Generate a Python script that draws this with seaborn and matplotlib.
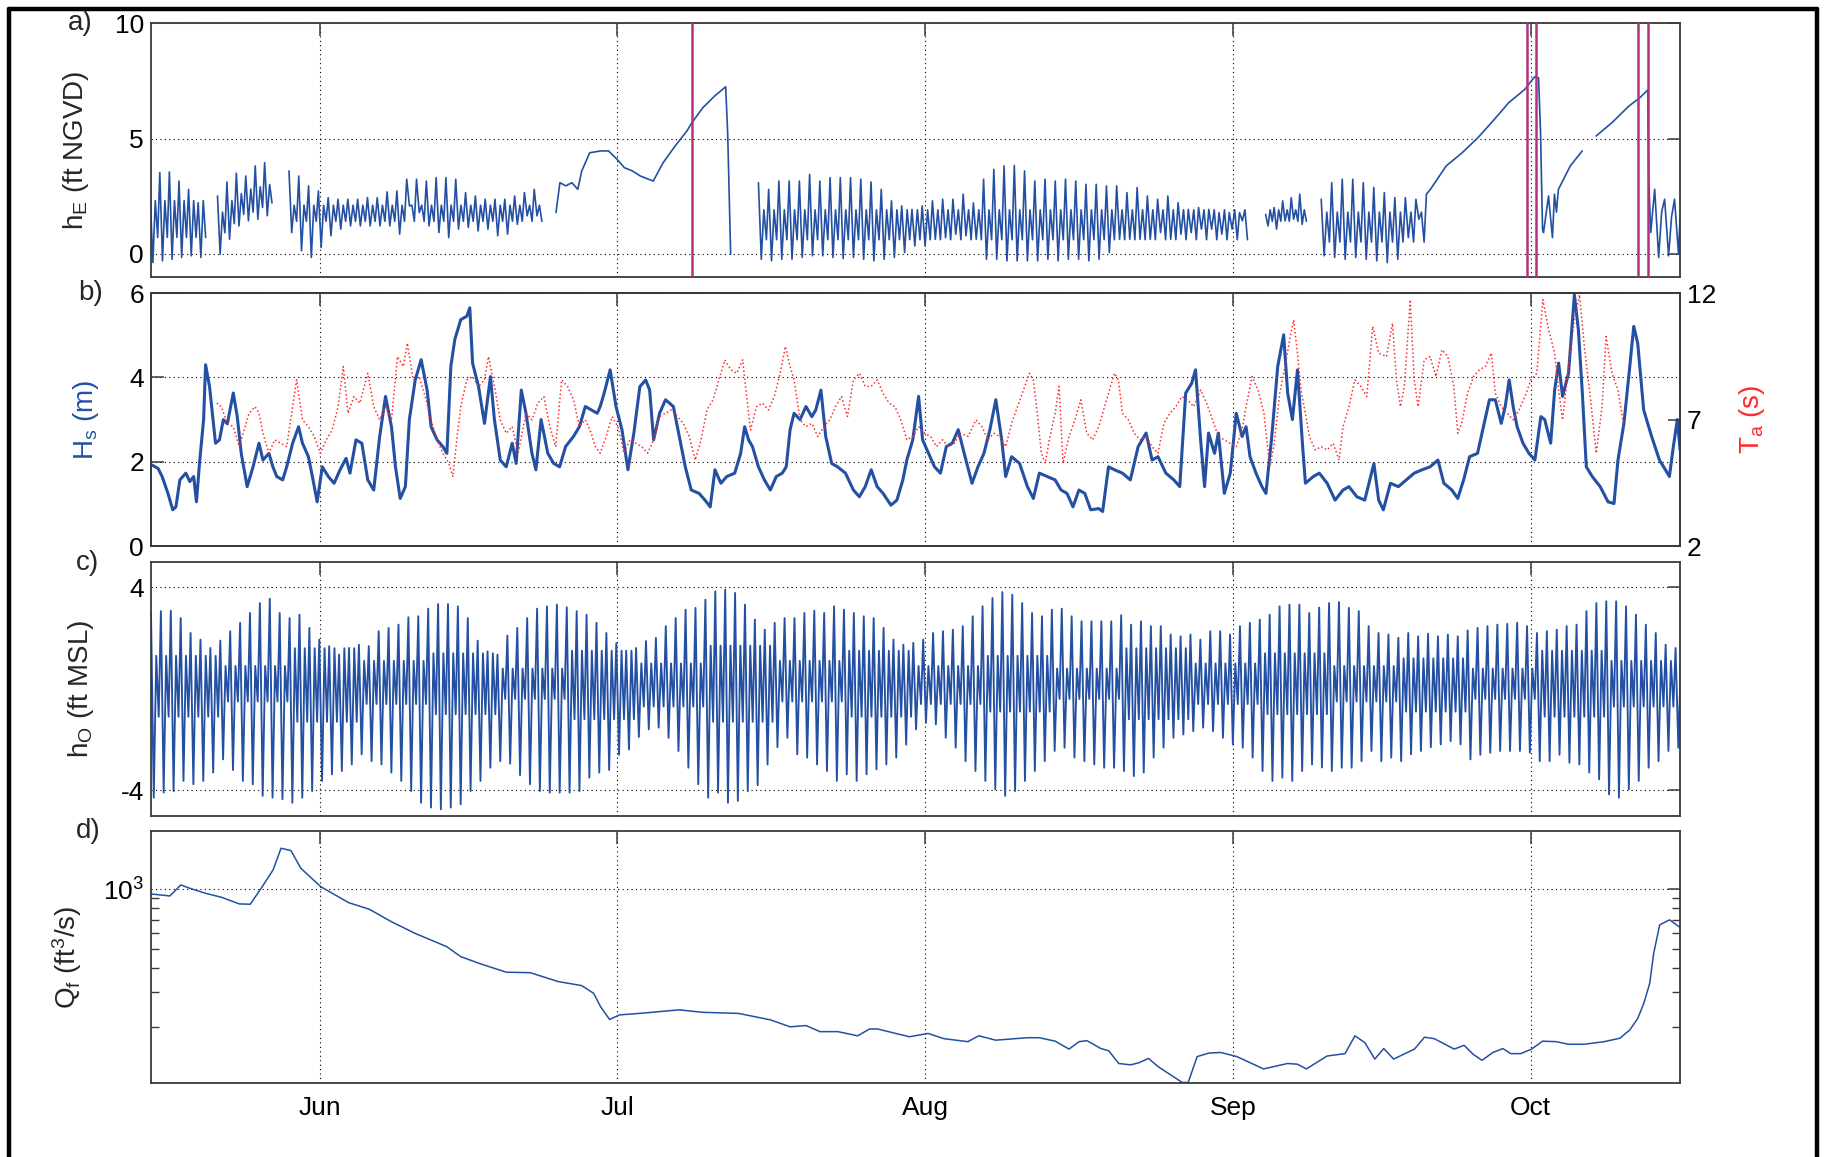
import numpy as np
import pandas as pd
import matplotlib
matplotlib.use("Agg")
import matplotlib.pyplot as plt
import matplotlib.dates as mdates
import matplotlib.ticker as mticker
from matplotlib.lines import Line2D
import seaborn as sns

sns.set_theme(style="white")
plt.rcParams["font.family"] = ["Liberation Sans", "DejaVu Sans"]
plt.rcParams["mathtext.default"] = "regular"
plt.rcParams["axes.unicode_minus"] = False

START = pd.Timestamp("2011-05-15")
END_DAY = 154.05

# ---------------- data (days since 15 May) ----------------
# panel a: lagoon level, oscillating stretches (daily high / low) and closed-mouth ramps
a_seg1_hh = [2.5, 3.52, 3.55, 3.15, 2.79, 2.21]
a_seg1_ll = [-0.39, -0.32, -0.25, -0.17, -0.1, -0.17]
a_seg2_hh = [2.5, 3.11, 3.49, 3.37, 3.81, 3.95]
a_seg2_ll = [-0.03, 0.62, 1.2, 1.42, 1.49, 1.64]
a_seg2_lh = [1.8, 2.3, 2.6, 2.8, 2.9, 3.0]
a_seg2_hl = [0.9, 1.3, 1.7, 1.8, 2.0, 2.2]
a_seg3_hh = [3.59, 3.37, 2.94, 2.72, 2.43, 2.36, 2.36, 2.36, 2.43, 2.43,
             2.68, 2.72, 3.23, 3.23, 3.15, 3.3, 3.3, 3.23, 2.65, 2.5,
             2.36, 2.36, 2.36, 2.5, 2.65, 2.79]
a_seg3_ll = [0.91, 0.12, -0.17, 0.26, 0.77, 1.06, 1.2, 1.2, 1.2, 1.2,
             1.2, 0.84, 2.07, 1.78, 1.2, 0.91, 0.69, 1.06, 1.13, 0.98,
             1.06, 0.77, 0.84, 1.27, 1.64, 1.64]
a_ramp1 = [(40.8, 1.78), (41.2, 3.08), (41.8, 2.94), (42.4, 3.08), (43.0, 2.79),
           (43.4, 3.59), (44.2, 4.38), (45.3, 4.46), (46.1, 4.46), (46.9, 4.12),
           (47.7, 3.73), (48.5, 3.59), (49.3, 3.37), (50.6, 3.15), (51.6, 3.95),
           (52.8, 4.67), (54.0, 5.33), (54.5, 5.69), (55.6, 6.34), (56.8, 6.85),
           (57.9, 7.25), (58.1, 5.25), (58.2, 3.52), (58.4, -0.03)]
a_seg5_hh = [3.08, 2.79, 3.15, 3.15, 3.15, 3.44, 3.15, 3.3, 3.3, 3.3,
             3.23, 3.11, 2.79, 2.29, 2.07, 1.92, 2.07, 2.29, 2.36, 2.36,
             2.58, 2.2, 3.23, 3.66, 3.81, 3.83, 3.59, 3.15, 3.23, 3.15,
             3.23, 3.15, 3.01, 3.01, 2.94, 2.94, 2.65, 2.87, 2.5, 2.36,
             2.5, 2.21, 1.92, 2.0, 1.92, 1.78, 1.78, 1.78]
a_seg5_ll = [-0.25, -0.32, -0.25, -0.25, -0.17, -0.1, -0.1, -0.17, -0.22, -0.17,
             -0.25, -0.32, -0.25, -0.17, 0.04, 0.33, 0.33, 0.62, 0.69, 0.84,
             0.77, 0.62, -0.25, -0.25, -0.32, -0.32, -0.32, -0.32, -0.25, -0.32,
             -0.25, -0.25, -0.32, -0.25, 0.04, 0.62, 0.62, 0.62, 0.62, 0.91,
             0.62, 0.84, 0.91, 1.06, 1.06, 0.84, 1.06, 1.42]
a_seg6_hh = [1.7, 2.0, 2.29, 2.43, 2.58]
a_seg6_ll = [1.2, 1.06, 1.42, 1.49, 1.27]
a_seg7_hh = [2.36, 3.08, 3.23, 3.23, 3.08, 2.87, 2.65, 2.43, 2.43, 2.36]
a_seg7_ll = [-0.1, -0.17, -0.25, -0.17, -0.25, -0.32, -0.39, -0.25, 0.69, 1.49]
a_ramp2 = [(128.5, 2.58), (128.9, 2.79), (130.5, 3.81), (132.1, 4.38), (133.7, 5.04),
           (135.2, 5.76), (136.8, 6.56), (138.4, 7.13), (139.4, 7.68), (139.8, 7.64),
           (140.0, 5.25), (140.2, 1.06), (140.3, 0.91), (140.8, 2.5), (141.2, 0.69),
           (141.4, 2.58), (141.6, 1.8), (141.8, 2.79), (143.0, 3.81), (144.2, 4.46)]
a_ramp3 = [(145.6, 5.11), (147.2, 5.69), (148.9, 6.41), (150.0, 6.77), (150.8, 7.11),
           (150.9, 3.23), (151.1, 0.91), (151.5, 2.79), (151.9, -0.17), (152.2, 1.8),
           (152.5, 2.36), (152.9, -0.1), (153.2, 1.6), (153.5, 2.36), (153.9, -0.03),
           (154.05, 1.5)]
breach_days = [54.5, 138.6, 139.5, 149.85, 150.8]

# panel b: significant wave height Hs (m)
hs_pts = [(0.12, 1.92), (0.72, 1.84), (1.12, 1.65), (1.71, 1.25), (2.19, 0.86), (2.51, 0.93),
          (2.91, 1.57), (3.51, 1.73), (3.91, 1.53), (4.30, 1.65), (4.58, 1.05), (4.90, 2.0),
          (5.30, 3.0), (5.50, 4.3), (5.90, 3.78), (6.50, 2.44), (6.90, 2.52), (7.29, 3.0),
          (7.69, 2.9), (8.29, 3.63), (8.69, 3.07), (9.09, 2.2), (9.69, 1.41), (10.28, 1.88),
          (10.88, 2.44), (11.28, 2.04), (11.88, 2.2), (12.28, 1.88), (12.67, 1.65), (13.27, 1.57),
          (13.67, 1.88), (14.27, 2.44), (14.87, 2.83), (15.26, 2.44), (15.86, 2.12), (16.26, 1.65),
          (16.74, 1.05), (17.26, 1.88), (17.86, 1.65), (18.45, 1.49), (19.05, 1.81), (19.65, 2.08),
          (20.05, 1.73), (20.65, 2.52), (21.24, 2.44), (21.84, 1.57), (22.44, 1.33), (23.04, 2.60),
          (23.63, 3.55), (24.23, 2.83), (24.63, 1.88), (25.11, 1.13), (25.63, 1.41), (26.03, 3.0),
          (26.62, 3.94), (27.22, 4.42), (27.82, 3.7), (28.22, 2.83), (28.82, 2.52), (29.41, 2.36),
          (29.81, 2.2), (30.21, 4.26), (30.61, 4.9), (31.21, 5.37), (31.81, 5.45), (32.12, 5.65),
          (32.40, 4.34), (33.0, 3.78), (33.6, 2.91), (34.2, 4.02), (34.6, 3.0), (35.19, 2.04),
          (35.79, 1.88), (36.39, 2.44), (36.79, 1.96), (37.31, 3.7), (37.78, 3.15), (38.38, 2.2),
          (38.78, 1.81), (39.30, 3.0), (39.98, 2.2), (40.57, 1.96), (41.17, 1.88), (41.77, 2.36),
          (42.57, 2.6), (43.16, 2.83), (43.76, 3.31), (44.36, 3.23), (44.96, 3.15),
          (45.26, 3.31), (45.66, 3.63), (46.26, 4.18), (46.85, 3.31), (47.45, 2.76), (48.05, 1.81),
          (48.65, 2.68), (49.25, 3.78), (49.84, 3.94), (50.24, 3.7), (50.64, 2.52), (51.24, 3.15),
          (51.84, 3.47), (52.63, 3.31), (53.23, 2.6), (53.83, 1.88), (54.43, 1.33), (55.22, 1.25),
          (55.82, 1.09), (56.34, 0.93), (56.82, 1.81), (57.42, 1.49), (58.01, 1.65), (58.81, 1.73),
          (59.41, 2.2), (59.81, 2.83), (60.21, 2.52), (60.6, 2.36), (61.2, 1.88), (61.8, 1.57),
          (62.4, 1.33), (63.0, 1.65), (63.6, 1.73), (64.0, 1.88), (64.39, 2.76), (64.79, 3.15),
          (65.39, 3.0), (65.99, 3.31), (66.58, 3.07), (66.98, 3.23), (67.5, 3.7), (67.98, 2.6),
          (68.58, 1.96), (69.17, 1.88), (69.97, 1.73), (70.77, 1.33), (71.37, 1.17), (71.96, 1.41),
          (72.56, 1.81), (73.16, 1.41), (73.76, 1.25), (74.55, 0.97), (75.15, 1.09), (75.75, 1.57),
          (76.15, 2.04), (76.75, 2.52), (77.34, 3.55), (77.74, 2.52), (78.34, 2.2), (78.94, 1.88),
          (79.54, 1.73), (80.13, 2.36), (80.73, 2.44), (81.33, 2.76), (81.93, 2.2), (82.72, 1.49),
          (83.32, 1.88), (83.92, 2.2), (84.52, 2.76), (85.12, 3.47), (85.71, 2.52), (86.11, 1.65),
          (86.71, 2.12), (87.51, 1.96), (88.3, 1.41), (88.9, 1.13), (89.5, 1.73), (90.3, 1.65),
          (91.09, 1.57), (91.69, 1.33), (92.29, 1.25), (92.89, 0.93), (93.49, 1.33), (94.08, 1.25),
          (94.68, 0.86), (95.48, 0.89), (95.88, 0.82), (96.47, 1.88), (97.07, 1.81), (97.87, 1.73),
          (98.67, 1.57), (99.46, 2.36), (100.26, 2.68), (100.86, 2.04), (101.46, 2.12), (102.25, 1.73),
          (103.05, 1.57), (103.65, 1.41), (104.25, 3.63), (104.85, 3.86), (105.24, 4.18),
          (105.75, 2.52), (106.15, 1.41), (106.55, 2.68), (107.15, 2.2), (107.54, 2.68), (108.14, 1.25),
          (108.74, 1.73), (109.34, 3.15), (109.93, 2.6), (110.33, 2.83), (110.73, 2.12), (111.33, 1.73),
          (111.93, 1.41), (112.33, 1.25), (112.92, 2.6), (113.52, 4.26), (114.12, 5.01), (114.52, 3.63),
          (115.0, 3.0), (115.51, 4.18), (116.03, 2.36), (116.31, 1.49), (117.11, 1.65), (117.71, 1.73),
          (118.5, 1.49), (119.3, 1.09), (120.1, 1.33), (120.7, 1.41), (121.49, 1.17), (122.29, 1.09),
          (123.21, 1.96), (123.69, 1.09), (124.16, 0.86), (124.88, 1.49), (125.68, 1.41), (126.48, 1.57),
          (127.27, 1.73), (128.07, 1.81), (128.87, 1.88), (129.66, 2.04), (130.26, 1.49), (131.06, 1.33),
          (131.66, 1.13), (132.25, 1.57), (132.85, 2.12), (133.65, 2.2), (134.25, 2.83), (134.85, 3.47),
          (135.44, 3.47), (136.04, 2.91), (136.44, 3.31), (136.84, 3.94), (137.24, 3.31), (137.64, 2.83),
          (138.23, 2.44), (138.83, 2.2), (139.43, 2.04), (140.03, 3.07), (140.42, 3.0), (141.02, 2.44),
          (141.42, 3.7), (141.82, 4.34), (142.22, 3.55), (142.82, 4.1), (143.41, 5.96), (143.81, 5.13),
          (144.21, 3.63), (144.61, 1.88), (145.21, 1.65), (146.01, 1.41), (146.8, 1.05), (147.4, 1.01),
          (147.8, 2.04), (148.4, 2.91), (148.99, 4.26), (149.39, 5.21), (149.79, 4.81), (150.39, 3.23),
          (151.19, 2.6), (151.98, 2.04), (152.58, 1.81), (152.98, 1.65), (153.38, 2.36), (153.78, 3.0),
          (154.06, 2.28)]

# panel b: average wave period Ta (s)
ta_pts = [(6.62, 7.65), (7.09, 7.51), (7.69, 6.85), (8.29, 6.72), (8.89, 5.93), (9.29, 6.46),
          (9.88, 7.25), (10.48, 7.51), (10.88, 7.25), (11.28, 6.46), (11.88, 5.67), (12.47, 6.2),
          (13.07, 6.06), (13.67, 5.93), (14.27, 7.51), (14.67, 8.57), (15.26, 6.99), (15.86, 6.72),
          (16.46, 6.33), (17.06, 5.67), (17.66, 6.2), (18.25, 6.59), (18.85, 7.51), (19.37, 9.1),
          (19.85, 7.25), (20.45, 7.91), (21.04, 7.65), (21.84, 8.83), (22.44, 7.51), (23.04, 6.99),
          (23.63, 7.51), (24.23, 6.99), (24.83, 9.49), (25.43, 9.1), (25.83, 10.02), (26.42, 8.57),
          (27.02, 8.7), (27.62, 7.91), (28.22, 6.99), (28.82, 6.2), (29.41, 5.67), (30.01, 5.27),
          (30.41, 4.74), (30.81, 6.2), (31.21, 7.51), (31.81, 8.57), (32.40, 8.7), (33.0, 8.31),
          (33.6, 8.57), (34.0, 9.49), (34.6, 8.31), (35.19, 6.99), (35.79, 6.46), (36.39, 6.72),
          (36.99, 5.67), (37.78, 7.25), (38.38, 6.99), (38.98, 7.65), (39.58, 7.91), (40.18, 6.72),
          (40.77, 5.93), (41.37, 8.57), (41.97, 8.31), (42.57, 7.78), (43.16, 6.72), (43.76, 6.99),
          (44.36, 6.46), (44.76, 5.93),
          (45.26, 5.67), (45.86, 6.33), (46.46, 7.12), (47.05, 6.72), (47.65, 5.67), (48.25, 6.2),
          (48.85, 6.06), (49.44, 5.93), (50.04, 5.67), (50.64, 6.2), (51.24, 7.12), (51.84, 7.25),
          (52.43, 7.38), (53.03, 7.12), (53.63, 6.85), (54.23, 6.33), (54.83, 5.4), (55.42, 6.2),
          (56.02, 7.38), (56.62, 7.78), (57.22, 8.57), (57.81, 9.36), (58.41, 8.97), (59.01, 8.83),
          (59.61, 9.36), (60.01, 7.91), (60.41, 6.59), (61.0, 7.51), (61.6, 7.65), (62.2, 7.38),
          (62.8, 7.91), (63.39, 8.83), (63.91, 9.89), (64.39, 9.1), (64.79, 8.57), (65.39, 6.99),
          (65.99, 6.72), (66.58, 6.85), (67.18, 6.33), (67.78, 6.72), (68.38, 6.99), (68.97, 7.51),
          (69.57, 7.91), (70.17, 7.12), (70.77, 8.57), (71.37, 8.83), (71.96, 8.31), (72.56, 8.31),
          (73.16, 8.57), (73.76, 8.04), (74.36, 7.65), (74.95, 7.51), (75.55, 6.99), (76.15, 6.2),
          (76.75, 6.33), (77.34, 6.72), (77.94, 6.46), (78.54, 6.33), (79.14, 5.93), (79.74, 6.2),
          (80.33, 5.93), (80.93, 6.06), (81.53, 6.46), (82.33, 6.33), (83.12, 6.99), (83.72, 6.72),
          (84.32, 6.2), (84.92, 6.46), (85.52, 6.33), (86.11, 5.93), (86.71, 6.85), (87.31, 7.51),
          (87.91, 8.17), (88.5, 8.83), (88.9, 8.57), (89.3, 7.25), (89.7, 5.67), (90.1, 5.27),
          (90.5, 6.2), (91.09, 7.25), (91.49, 8.31), (91.89, 5.27), (92.49, 6.33), (93.09, 6.99),
          (93.68, 7.78), (94.28, 6.46), (94.88, 6.2), (95.48, 6.72), (96.08, 7.51), (96.67, 8.31),
          (97.07, 8.83), (97.47, 8.57), (97.87, 7.25), (98.47, 6.99), (99.07, 6.46), (99.66, 6.2),
          (100.26, 6.33), (100.86, 5.93), (101.46, 5.67), (102.05, 6.85), (102.65, 7.25), (103.25, 7.51),
          (103.85, 7.91), (104.45, 7.78), (105.04, 7.51), (105.64, 8.04),
          (105.75, 8.17), (106.35, 7.65), (106.95, 6.99), (107.54, 6.33), (108.14, 6.2), (108.74, 6.06),
          (109.34, 5.93), (109.93, 6.59), (110.33, 7.51), (110.93, 8.7), (111.53, 8.17), (112.13, 7.25),
          (112.72, 5.14), (113.12, 5.93), (113.72, 8.04), (114.32, 9.23), (114.72, 10.15), (115.12, 10.94),
          (115.51, 9.63), (115.91, 8.04), (116.31, 7.25), (116.71, 6.33), (117.31, 5.8), (117.91, 5.93),
          (118.5, 5.8), (119.1, 6.06), (119.7, 5.4), (120.1, 6.72), (120.7, 7.51), (121.29, 8.57),
          (121.89, 8.31), (122.49, 7.91), (123.09, 10.68), (123.69, 9.63), (124.48, 9.49), (125.08, 10.81),
          (125.48, 8.57), (125.88, 7.51), (126.28, 8.31), (126.87, 11.74), (127.27, 8.57), (127.67, 7.51),
          (128.27, 9.36), (128.87, 9.49), (129.46, 8.7), (130.06, 9.76), (130.66, 9.49), (131.26, 8.31),
          (131.66, 6.46), (132.05, 6.85), (132.65, 8.04), (133.25, 8.7), (133.85, 8.97), (134.45, 9.1),
          (135.04, 9.63), (135.44, 8.04), (136.04, 7.51), (136.64, 7.25), (137.24, 6.99), (137.83, 7.38),
          (138.43, 7.91), (139.03, 8.57), (139.63, 8.83), (140.23, 11.74), (140.82, 10.55), (141.42, 9.63),
          (141.82, 8.17), (142.22, 6.99), (142.82, 9.1), (143.41, 10.94), (143.93, 11.93), (144.41, 9.89),
          (145.01, 7.91), (145.61, 5.67), (146.2, 7.51), (146.6, 10.28), (147.2, 8.83), (147.8, 8.17),
          (148.4, 6.72)]

# panel c: ocean tide, one higher-high / lower-low per tidal day, plus weekly secondary levels
tide_hh = [3.0, 3.06, 3.08, 2.79, 2.2, 1.94, 1.61, 1.9, 2.27, 2.6,
           2.99, 3.38, 3.55, 2.99, 2.79, 2.92, 2.4, 1.94, 1.68, 1.35,
           1.61, 1.74, 1.68, 2.27, 2.4, 2.53, 2.82, 2.86, 3.16, 3.34,
           3.34, 3.25, 2.79, 1.9, 1.48, 1.35, 2.1, 2.4, 2.79, 3.16,
           3.25, 3.32, 3.21, 3.06, 2.92, 2.6, 2.2, 1.8, 1.5, 1.61,
           1.88, 2.01, 2.47, 2.79, 3.12, 3.19, 3.51, 3.84, 3.91, 3.78,
           3.32, 2.73, 2.33, 2.6, 2.79, 2.79, 2.99, 3.08, 2.99, 3.25,
           3.12, 2.99, 2.86, 2.79, 2.4, 1.94, 1.74, 1.81, 1.94, 2.2,
           2.27, 2.33, 2.47, 2.86, 3.25, 3.58, 3.81, 3.71, 3.38, 2.99,
           2.86, 3.12, 3.16, 2.86, 2.66, 2.66, 2.66, 2.66, 2.9, 2.53,
           2.66, 2.47, 2.47, 2.14, 2.07, 2.14, 1.94, 2.27, 2.27, 2.14,
           2.47, 2.6, 2.73, 2.92, 3.25, 3.32, 3.32, 2.99, 3.2, 3.38,
           3.42, 3.19, 3.06, 2.47, 2.2, 2.14, 2.01, 2.2, 2.07, 2.17,
           2.07, 2.14, 2.07, 2.3, 2.4, 2.47, 2.53, 2.56, 2.6, 2.47,
           2.2, 2.27, 2.33, 2.47, 2.53, 3.06, 3.38, 3.45, 3.45, 3.25,
           2.92, 2.53, 2.2, 1.74, 1.61]
tide_ll = [-4.29, -4.09, -4.03, -3.63, -3.76, -3.63, -3.3, -2.78, -3.2, -3.63,
           -3.76, -4.22, -4.29, -4.35, -4.49, -4.29, -4.03, -3.63, -3.37, -3.24,
           -2.98, -2.58, -2.85, -2.98, -3.3, -3.63, -4.03, -4.49, -4.68, -4.75,
           -4.68, -4.55, -4.03, -3.63, -3.11, -2.85, -2.95, -3.4, -3.76, -4.03,
           -4.09, -4.09, -4.09, -4.03, -3.5, -3.3, -3.2, -2.6, -2.39, -1.9,
           -1.6, -1.53, -1.93, -2.45, -3.11, -3.76, -4.29, -4.09, -4.49, -4.42,
           -4.03, -3.8, -2.98, -2.3, -1.93, -2.58, -2.71, -2.98, -3.24, -3.63,
           -3.37, -3.63, -3.37, -3.17, -2.98, -2.71, -2.2, -1.6, -1.34, -1.4,
           -1.93, -2.32, -2.85, -3.24, -3.63, -3.96, -4.22, -4.03, -3.63, -3.24,
           -2.85, -2.45, -2.32, -2.71, -2.85, -2.98, -3.11, -3.11, -3.24, -3.44,
           -3.3, -2.71, -2.32, -1.93, -1.8, -1.67, -1.53, -1.67, -1.93, -2.19,
           -2.32, -2.71, -3.24, -3.63, -3.5, -3.63, -3.24, -2.98, -3.1, -3.24,
           -3.11, -3.11, -2.85, -2.45, -2.85, -2.71, -2.85, -2.58, -2.45, -2.3,
           -2.19, -2.06, -2.19, -2.78, -2.6, -2.52, -2.45, -2.45, -2.45, -2.52,
           -2.85, -2.85, -2.6, -2.91, -2.98, -3.3, -3.57, -4.16, -4.29, -3.96,
           -3.63, -3.11, -2.85, -2.45, -2.32]
tide_mid_hi = [1.3, 0.9, 1.6, 1.1, 1.4, 0.8, 1.5, 1.0, 1.7, 1.1, 1.5, 0.9,
               1.3, 0.8, 1.6, 1.0, 1.4, 0.9, 1.2, 0.8, 1.5, 1.1, 1.0]
tide_mid_lo = [-1.1, -0.5, -1.3, -0.6, -1.0, -0.4, -1.2, -0.7, -1.3, -0.5, -1.1, -0.6,
               -0.9, -0.4, -1.2, -0.6, -1.0, -0.5, -0.9, -0.4, -1.1, -0.7, -0.6]

# panel d: river flow Qf (ft3/s)
qf_pts = [(0.0, 947), (1.9, 925), (3.0, 1052), (3.9, 1012), (5.5, 954), (7.1, 911), (8.9, 843),
          (10.0, 840), (11.1, 1012), (12.3, 1253), (13.1, 1614), (14.1, 1570), (15.1, 1277),
          (17.1, 1031), (19.9, 856), (22.0, 792), (24.2, 686), (26.6, 598), (29.8, 512),
          (31.2, 456), (33.2, 419), (35.8, 380), (38.2, 378), (41.0, 341), (43.4, 325),
          (44.6, 297), (45.3, 254), (46.2, 219), (47.2, 231), (49.2, 235), (53.2, 245),
          (55.6, 238), (59.2, 235), (62.4, 218), (64.4, 201), (66.0, 204), (67.4, 190),
          (69.2, 190), (71.2, 181), (72.4, 196), (73.2, 196), (76.4, 179), (78.3, 186),
          (79.9, 175), (82.3, 169), (83.4, 181), (85.1, 172), (88.3, 177), (89.5, 177),
          (91.1, 170), (92.5, 155), (93.5, 169), (94.3, 171), (95.7, 156), (96.5, 152),
          (97.5, 131), (98.7, 129), (99.5, 132), (100.5, 139), (101.5, 126), (103.9, 105),
          (104.5, 105), (105.4, 142), (106.6, 148), (107.8, 149), (109.4, 142), (112.1, 123),
          (114.5, 131), (115.5, 130), (116.4, 123), (118.5, 143), (120.3, 147), (121.3, 181),
          (122.3, 167), (123.3, 138), (124.2, 156), (125.2, 138), (127.3, 155), (128.3, 178),
          (129.3, 175), (131.3, 155), (132.3, 162), (133.2, 146), (134.1, 136), (135.2, 149),
          (136.2, 156), (137.0, 147), (138.0, 147), (139.1, 155), (140.2, 170), (141.6, 169),
          (142.8, 164), (144.4, 164), (146.4, 169), (148.0, 176), (149.0, 194), (149.8, 222),
          (150.4, 264), (151.0, 334), (151.4, 474), (152.0, 660), (153.0, 700), (154.05, 641)]

BLUE = "#2350a3"
RED = "#ff2a2a"
MAGENTA = "#b5307e"
TICK_FS = 19
LABEL_FS = 20


def to_dates(days):
    return START + pd.to_timedelta(np.asarray(days, dtype=float), unit="D")


def tide_cycles(start, end, hh, ll, lh, hl):
    # higher high -> lower low -> lower high -> higher low, one set per tidal day
    n = len(hh)
    step = (end - start) / n
    t, v = [], []
    for i in range(n):
        t0 = start + i * step
        a = lh[i] if np.ndim(lh) else lh
        b = hl[i] if np.ndim(hl) else hl
        t += [t0, t0 + 0.28 * step, t0 + 0.53 * step, t0 + 0.78 * step]
        v += [hh[i], ll[i], a, b]
    return t, v


def draw(ax, days, vals, color=BLUE, lw=1.2, **kw):
    sns.lineplot(x=to_dates(days), y=np.asarray(vals, float), ax=ax, color=color,
                 linewidth=lw, estimator=None, sort=False, legend=False, **kw)


def style(ax, right=True):
    for s in ax.spines.values():
        s.set_color("#3a3a3a")
        s.set_linewidth(1.3)
    ax.tick_params(which="major", direction="in", length=9, width=1.1, top=True,
                   right=right, labelsize=TICK_FS, color="#3a3a3a", labelcolor="black", pad=5)
    ax.xaxis.set_major_locator(mdates.MonthLocator())
    ax.xaxis.set_major_formatter(mdates.DateFormatter("%b"))
    ax.set_xlim(START, START + pd.Timedelta(days=END_DAY))
    ax.grid(True, which="major", linestyle=(0, (1, 3)), color="black", linewidth=0.8)
    ax.set_axisbelow(True)
    ax.set_xlabel("")


fig = plt.figure(figsize=(18.28, 11.57), dpi=100)
L, W = 151 / 1828, 1529 / 1828
ax_a = fig.add_axes([L, 0.761, W, 0.2187])
ax_b = fig.add_axes([L, 0.528, W, 0.2187])
ax_c = fig.add_axes([L, 0.295, W, 0.2193])
ax_d = fig.add_axes([L, 0.0637, W, 0.2183])

# ---- a) lagoon water level
for t, v in [tide_cycles(-0.08, 5.72, a_seg1_hh, a_seg1_ll, 2.3, 0.7),
             tide_cycles(6.7, 12.4, a_seg2_hh, a_seg2_ll, a_seg2_lh, a_seg2_hl),
             tide_cycles(13.9, 39.6, a_seg3_hh, a_seg3_ll, 2.1, 1.4),
             tide_cycles(61.2, 110.7, a_seg5_hh, a_seg5_ll, 1.9, 0.6),
             tide_cycles(112.3, 116.6, a_seg6_hh, a_seg6_ll, 1.9, 1.4)]:
    draw(ax_a, t, v)
draw(ax_a, [p[0] for p in a_ramp1], [p[1] for p in a_ramp1])
t7, v7 = tide_cycles(117.9, 128.5, a_seg7_hh, a_seg7_ll, 1.8, 0.5)
draw(ax_a, t7 + [p[0] for p in a_ramp2], v7 + [p[1] for p in a_ramp2])
draw(ax_a, [p[0] for p in a_ramp3], [p[1] for p in a_ramp3])
for d in breach_days:
    ax_a.axvline(START + pd.Timedelta(days=d), color=MAGENTA, linewidth=1.8, zorder=3)
ax_a.set_ylim(-1, 10)
ax_a.set_yticks([0, 5, 10])
style(ax_a)
ax_a.tick_params(labelbottom=False)
ax_a.set_ylabel("h$_E$ (ft NGVD)", fontsize=LABEL_FS)
ax_a.yaxis.set_label_coords(-0.039, 0.5)

# ---- b) waves
ax_b2 = ax_b.twinx()
draw(ax_b2, [p[0] for p in ta_pts], [p[1] for p in ta_pts], color=RED, lw=1.1,
     linestyle=(0, (1, 1.6)))
draw(ax_b, [p[0] for p in hs_pts], [p[1] for p in hs_pts], lw=2.2)
ax_b.set_ylim(0, 6)
ax_b.set_yticks([0, 2, 4, 6])
style(ax_b, right=False)
ax_b.tick_params(labelbottom=False)
ax_b.set_ylabel("H$_s$ (m)", fontsize=LABEL_FS, color=BLUE)
ax_b.yaxis.set_label_coords(-0.033, 0.5)
ax_b2.set_ylim(2, 12)
ax_b2.set_yticks([2, 7, 12])
ax_b2.grid(False)
ax_b2.tick_params(direction="in", length=9, width=1.1, right=True, labelsize=TICK_FS,
                  color="#3a3a3a", labelcolor="black", pad=5)
for s in ax_b2.spines.values():
    s.set_color("#3a3a3a")
    s.set_linewidth(1.3)
ax_b2.set_ylabel("T$_a$ (s)", fontsize=LABEL_FS, color=RED)
ax_b2.yaxis.set_label_coords(1.037, 0.5)

# ---- c) ocean tide
n_c = len(tide_hh)
c_lh = [tide_mid_hi[min(i // 7, len(tide_mid_hi) - 1)] for i in range(n_c)]
c_hl = [tide_mid_lo[min(i // 7, len(tide_mid_lo) - 1)] for i in range(n_c)]
tc, vc = tide_cycles(0.0, 154.6, tide_hh, tide_ll, c_lh, c_hl)
draw(ax_c, tc, vc, lw=1.35)
ax_c.set_ylim(-5, 5)
ax_c.set_yticks([-4, 4])
style(ax_c)
ax_c.tick_params(labelbottom=False)
ax_c.set_ylabel("h$_O$ (ft MSL)", fontsize=LABEL_FS)
ax_c.yaxis.set_label_coords(-0.036, 0.5)

# ---- d) river flow
draw(ax_d, [p[0] for p in qf_pts], [p[1] for p in qf_pts], lw=1.1)
ax_d.set_yscale("log")
ax_d.set_ylim(104, 1980)
ax_d.yaxis.set_major_locator(mticker.LogLocator(base=10))
ax_d.yaxis.set_minor_locator(mticker.LogLocator(base=10, subs=np.arange(2, 10)))
ax_d.yaxis.set_minor_formatter(mticker.NullFormatter())
style(ax_d)
ax_d.tick_params(which="minor", direction="in", length=5.5, width=1.0, left=True,
                 right=True, color="#3a3a3a")
ax_d.tick_params(axis="x", pad=9)
ax_d.grid(False, which="minor")
ax_d.set_ylabel("Q$_f$ (ft$^3$/s)", fontsize=LABEL_FS)
ax_d.yaxis.set_label_coords(-0.044, 0.5)

# panel letters
for txt, x, y in [("a)", 93, 23), ("b)", 103, 293), ("c)", 99, 563), ("d)", 101, 831)]:
    fig.text(x / 1828, 1 - y / 1157, txt, ha="right", va="center", fontsize=LABEL_FS)

# outer frame (open at the bottom like the scan)
x0, x1, y1 = 9 / 1828, 1817 / 1828, 1 - 9 / 1157
for xs, ys in [([x0, x0], [0, y1]), ([x0, x1], [y1, y1]), ([x1, x1], [y1, 0])]:
    fig.add_artist(Line2D(xs, ys, transform=fig.transFigure, color="black", linewidth=3.2))

fig.savefig("out.png", dpi=100)
